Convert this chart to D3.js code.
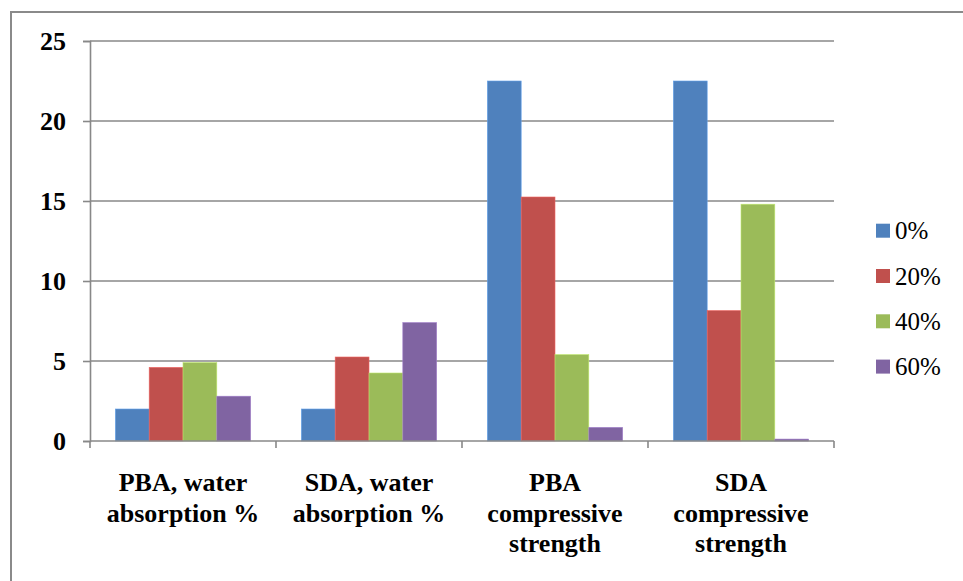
<!DOCTYPE html>
<html>
<head>
<meta charset="utf-8">
<script src="https://cdn.jsdelivr.net/npm/d3@7"></script>
<style>
  html, body { margin: 0; padding: 0; background: #fff; }
  svg { display: block; }
</style>
</head>
<body>
<svg id="chart" width="963" height="581"></svg>
<script>
// Test groups along the x axis (each label split into its printed lines)
const categories = [
  ["PBA, water", "absorption %"],
  ["SDA, water", "absorption %"],
  ["PBA", "compressive", "strength"],
  ["SDA", "compressive", "strength"]
];
// Replacement levels (series)
const seriesNames = ["0%", "20%", "40%", "60%"];
const seriesColors = ["#4F81BD", "#C0504D", "#9BBB59", "#8064A2"];
// Values per series, one per test group
const values0 = [2.0, 2.0, 22.5, 22.5];
const values20 = [4.6, 5.25, 15.25, 8.15];
const values40 = [4.9, 4.25, 5.4, 14.8];
const values60 = [2.8, 7.4, 0.85, 0.12];
const yTicks = [0, 5, 10, 15, 20, 25];

const seriesValues = [values0, values20, values40, values60];
const serif = "'Liberation Serif', Tinos, 'Noto Serif', 'DejaVu Serif', FreeSerif, 'Nimbus Roman', 'Times New Roman', Times, serif";

const svg = d3.select("#chart");

// Chart frame (extends past the visible window on right and bottom)
svg.append("rect")
  .attr("x", 11).attr("y", 12)
  .attr("width", 1000).attr("height", 1000)
  .attr("fill", "none").attr("stroke", "#8a8a8a").attr("stroke-width", 2);

const plot = { left: 90, right: 834, top: 41, bottom: 441 };

const x = d3.scaleBand()
  .domain(d3.range(categories.length))
  .range([plot.left, plot.right])
  .padding(0);

const xInner = d3.scaleBand()
  .domain(d3.range(seriesNames.length))
  .range([0, x.bandwidth()])
  .paddingInner(0)
  .paddingOuter(0.75);

const y = d3.scaleLinear()
  .domain([0, 25])
  .range([plot.bottom, plot.top]);

// Horizontal gridlines
svg.append("g")
  .selectAll("line")
  .data(yTicks.filter(d => d > 0))
  .join("line")
  .attr("x1", plot.left).attr("x2", plot.right)
  .attr("y1", d => y(d)).attr("y2", d => y(d))
  .attr("stroke", "#888").attr("stroke-width", 1.6);

// Bars
const groups = svg.append("g")
  .selectAll("g")
  .data(seriesValues)
  .join("g")
  .attr("fill", (d, i) => seriesColors[i]);

groups.each(function (vals, si) {
  d3.select(this).selectAll("rect")
    .data(vals)
    .join("rect")
    .attr("x", (v, ci) => x(ci) + xInner(si))
    .attr("width", xInner.bandwidth())
    .attr("y", v => y(v))
    .attr("height", v => y(0) - y(v))
    .attr("stroke", d3.color(seriesColors[si]).brighter(0.6))
    .attr("stroke-width", 0.6);
});

// Y axis
const yAxis = d3.axisLeft(y)
  .tickValues(yTicks)
  .tickSize(7)
  .tickPadding(17)
  .tickFormat(d3.format("d"));

const gy = svg.append("g")
  .attr("transform", `translate(${plot.left},0)`)
  .call(yAxis);
gy.select(".domain").attr("stroke", "#888").attr("stroke-width", 1.6);
gy.selectAll(".tick line").attr("stroke", "#888").attr("stroke-width", 1.6);
gy.selectAll(".tick text")
  .style("font-family", serif)
  .style("font-size", "26px").style("font-weight", "bold").attr("fill", "#000")
  .attr("dy", "0.34em");

// X axis: baseline with ticks at category boundaries
const gx = svg.append("g");
gx.append("line")
  .attr("x1", plot.left).attr("x2", plot.right)
  .attr("y1", y(0)).attr("y2", y(0))
  .attr("stroke", "#888").attr("stroke-width", 1.6);
const boundaries = d3.range(categories.length + 1)
  .map(i => i < categories.length ? x(i) : x(i - 1) + x.bandwidth());
gx.selectAll("line.tick")
  .data(boundaries)
  .join("line")
  .attr("class", "tick")
  .attr("x1", d => d).attr("x2", d => d)
  .attr("y1", y(0)).attr("y2", y(0) + 7)
  .attr("stroke", "#888").attr("stroke-width", 1.6);

// Category labels
const labels = svg.append("g")
  .selectAll("text")
  .data(categories)
  .join("text")
  .style("font-family", serif)
  .style("font-size", "26px")
  .style("font-weight", "bold")
  .attr("x", (d, i) => x(i) + x.bandwidth() / 2)
  .attr("y", 491)
  .attr("text-anchor", "middle")
  .attr("fill", "#000");
labels.each(function (lines, i) {
  d3.select(this).selectAll("tspan")
    .data(lines)
    .join("tspan")
    .attr("x", x(i) + x.bandwidth() / 2)
    .attr("dy", (d, j) => j === 0 ? 0 : 30.5)
    .text(d => d);
});

// Legend
const legend = svg.append("g")
  .selectAll("g")
  .data(seriesNames)
  .join("g")
  .attr("transform", (d, i) => `translate(876,${230.7 + i * 45.3})`);
legend.append("rect")
  .attr("x", 0).attr("y", -7)
  .attr("width", 14).attr("height", 14)
  .attr("fill", (d, i) => seriesColors[i]);
legend.append("text")
  .style("font-family", serif)
  .style("font-size", "25px")
  .attr("x", 19).attr("y", 0)
  .attr("dy", "0.35em")
  .attr("fill", "#000")
  .text(d => d);
</script>
</body>
</html>
